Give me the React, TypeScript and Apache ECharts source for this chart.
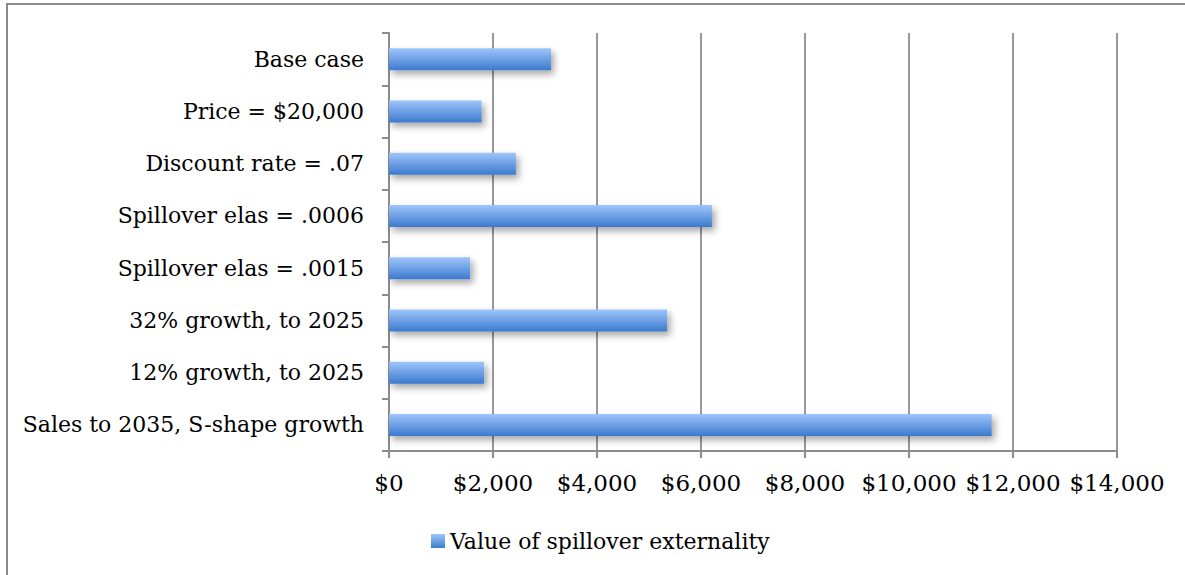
import React, { useEffect, useRef } from "react";
import * as echarts from "echarts";

const categories = [
  "Base case",
  "Price = $20,000",
  "Discount rate = .07",
  "Spillover elas = .0006",
  "Spillover elas = .0015",
  "32% growth, to 2025",
  "12% growth, to 2025",
  "Sales to 2035, S-shape growth",
];
const values = [3115, 1780, 2440, 6210, 1560, 5350, 1830, 11590];
const seriesName = "Value of spillover externality";
const xMin = 0;
const xMax = 14000;
const xInterval = 2000;

const FONT = "DejaVu Serif";

export default function App() {
  const ref = useRef<HTMLDivElement>(null);
  useEffect(() => {
    if (!ref.current) return;
    const chart = echarts.init(ref.current, null, { renderer: "svg" });
    const barColor = new echarts.graphic.LinearGradient(0, 0, 0, 1, [
      { offset: 0, color: "#9fc6fc" },
      { offset: 1, color: "#3c7ace" },
    ]);
    chart.setOption({
      animation: false,
      backgroundColor: "#ffffff",
      textStyle: { fontFamily: FONT },
      graphic: [
        {
          type: "rect",
          shape: { x: 7, y: 4, width: 1200, height: 600 },
          style: { fill: "none", stroke: "#8c8c8c", lineWidth: 2 },
          silent: true,
        },
      ],
      grid: { left: 389, right: 68, top: 33, bottom: 124, containLabel: false },
      legend: {
        data: [{ name: seriesName, icon: "rect" }],
        left: 426,
        top: 525,
        itemWidth: 14,
        itemHeight: 14,
        itemGap: 10,
        textStyle: { fontFamily: FONT, fontSize: 22, color: "#000" },
      },
      xAxis: {
        type: "value",
        min: xMin,
        max: xMax,
        interval: xInterval,
        axisLine: { show: true, lineStyle: { color: "#8c8c8c", width: 2 } },
        axisTick: { show: true, length: 7, lineStyle: { color: "#8c8c8c", width: 2 } },
        splitLine: { show: true, lineStyle: { color: "#999999", width: 2 } },
        axisLabel: {
          margin: 20,
          fontFamily: FONT,
          fontSize: 23,
          color: "#000",
          formatter: (v: number) => "$" + v.toLocaleString("en-US"),
        },
      },
      yAxis: {
        type: "category",
        inverse: true,
        data: categories,
        axisLine: { show: true, lineStyle: { color: "#8c8c8c", width: 2 } },
        axisTick: { show: true, length: 7, lineStyle: { color: "#8c8c8c", width: 2 } },
        splitLine: { show: false },
        axisLabel: {
          margin: 25,
          fontFamily: FONT,
          fontSize: 22,
          color: "#000",
        },
      },
      series: [
        {
          name: seriesName,
          type: "bar",
          data: values,
          barWidth: 22,
          itemStyle: {
            color: barColor,
            shadowColor: "rgba(0,0,0,0.35)",
            shadowBlur: 7,
            shadowOffsetX: 3,
            shadowOffsetY: 4,
          },
        },
      ],
    });
    return () => chart.dispose();
  }, []);
  return (
    <div
      ref={ref}
      style={{ position: "fixed", left: 0, top: 0, width: 1185, height: 575 }}
    />
  );
}
